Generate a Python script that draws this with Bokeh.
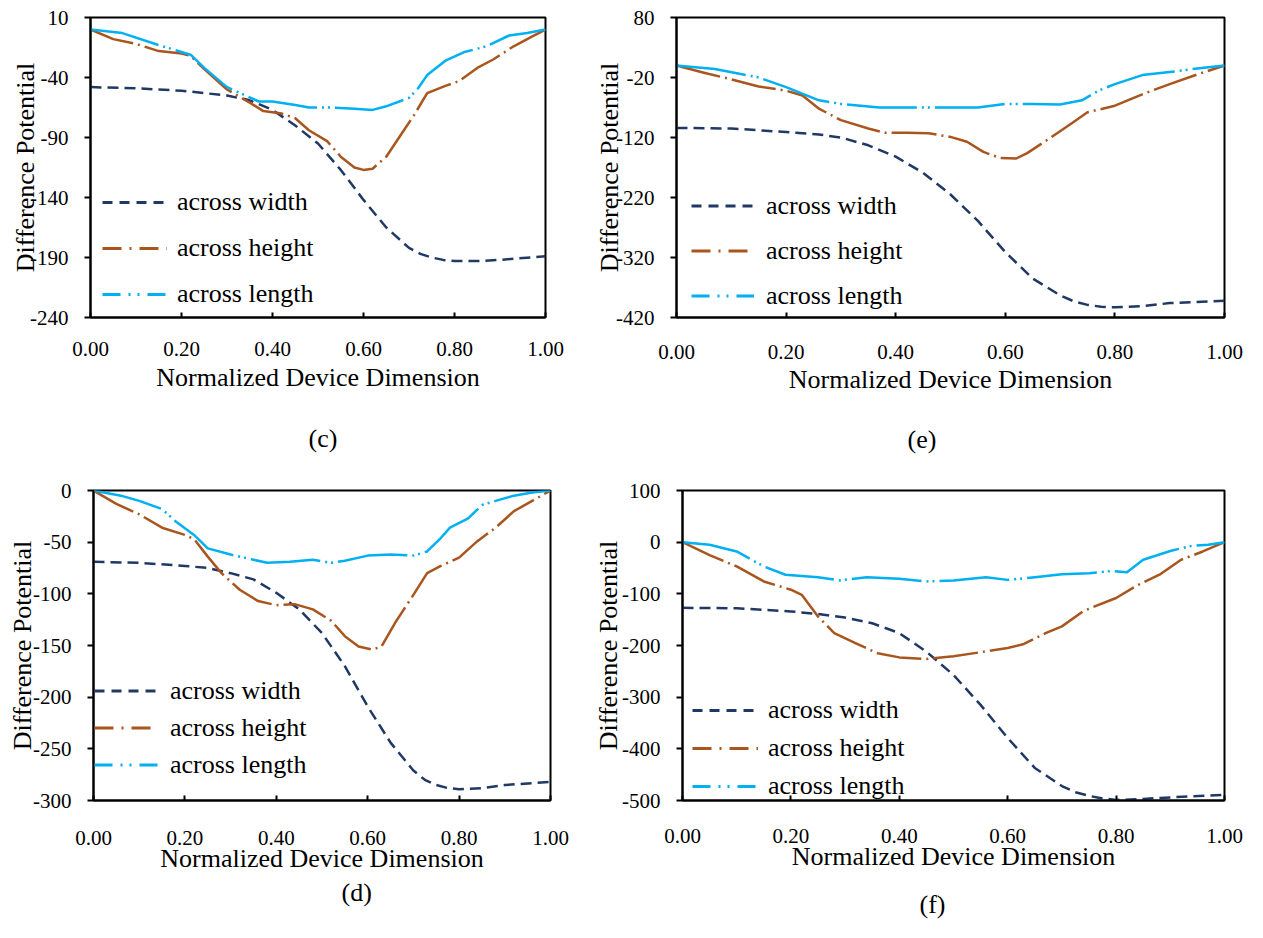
from bokeh.plotting import figure
from bokeh.models import (FixedTicker, NumeralTickFormatter, PrintfTickFormatter,
                          Legend, LegendItem, Title, Range1d)
from bokeh.layouts import column, row
from bokeh.embed import file_html
from bokeh.resources import INLINE

# ---------------- data ----------------
x_ticks = [0.0, 0.2, 0.4, 0.6, 0.8, 1.0]
series_names = ["across width", "across height", "across length"]

# panel (c)
c_yticks = [-240, -190, -140, -90, -40, 10]
c_width_x = [0, 0.1, 0.2, 0.3, 0.35, 0.4, 0.45, 0.5, 0.55, 0.6, 0.65, 0.7, 0.725, 0.75, 0.775, 0.8, 0.85, 0.9, 1.0]
c_width_y = [-48, -49, -51, -55, -59, -67, -80, -95, -117, -142, -165, -182, -187, -190, -192, -193, -193, -192, -189]
c_height_x = [0, 0.05, 0.1, 0.15, 0.2, 0.22, 0.25, 0.3, 0.35, 0.38, 0.42, 0.45, 0.48, 0.52, 0.55, 0.58,
              0.6, 0.62, 0.65, 0.68, 0.71, 0.74, 0.78, 0.81, 0.85, 0.885, 0.93, 0.97, 1.0]
c_height_y = [0, -8, -12, -18, -20, -22, -33, -50, -61, -68, -70, -74, -84, -93, -106, -115,
              -117, -116, -106, -89, -72, -53, -47, -43, -32, -25, -14, -6, 0]
c_length_x = [0, 0.07, 0.15, 0.22, 0.25, 0.3, 0.37, 0.4, 0.45, 0.48, 0.53, 0.58, 0.62, 0.65, 0.7,
              0.72, 0.74, 0.78, 0.82, 0.87, 0.92, 0.96, 1.0]
c_length_y = [0, -3, -13, -21, -32, -48, -60, -60, -63, -65, -65, -66, -67, -64, -57,
              -49, -38, -26, -19, -14, -5, -3, 0]

# panel (e)
e_yticks = [-420, -320, -220, -120, -20, 80]
e_width_x = [0, 0.1, 0.2, 0.26, 0.3, 0.35, 0.4, 0.45, 0.5, 0.55, 0.6, 0.65, 0.7, 0.725, 0.75, 0.775, 0.8, 0.85, 0.9, 1.0]
e_width_y = [-104, -105, -111, -115, -120, -133, -152, -179, -215, -259, -311, -355, -383, -393, -399, -402, -403, -401, -396, -392]
e_height_x = [0, 0.05, 0.1, 0.15, 0.2, 0.23, 0.26, 0.3, 0.35, 0.38, 0.42, 0.46, 0.5, 0.53, 0.56, 0.59,
              0.62, 0.64, 0.68, 0.72, 0.75, 0.8, 0.85, 0.9, 0.95, 1.0]
e_height_y = [0, -12, -23, -35, -42, -50, -72, -91, -105, -112, -112, -113, -119, -127, -144, -154,
              -155, -146, -122, -97, -78, -67, -48, -31, -15, 0]
e_length_x = [0, 0.07, 0.15, 0.2, 0.26, 0.3, 0.37, 0.45, 0.52, 0.55, 0.6, 0.65, 0.7, 0.74, 0.77,
              0.8, 0.85, 0.9, 0.95, 1.0]
e_length_y = [0, -6, -20, -36, -58, -64, -70, -70, -70, -70, -64, -64, -65, -58, -42,
              -31, -16, -11, -5, 0]

# panel (d)
d_yticks = [-300, -250, -200, -150, -100, -50, 0]
d_width_x = [0, 0.1, 0.2, 0.25, 0.3, 0.35, 0.4, 0.45, 0.5, 0.55, 0.6, 0.65, 0.7, 0.725, 0.75, 0.775, 0.8, 0.85, 0.9, 1.0]
d_width_y = [-69, -70, -73, -75, -80, -86, -99, -115, -138, -170, -209, -244, -271, -280, -285, -288, -289, -288, -285, -282]
d_height_x = [0, 0.05, 0.1, 0.15, 0.2, 0.22, 0.25, 0.28, 0.32, 0.36, 0.4, 0.44, 0.48, 0.52, 0.55, 0.58,
              0.61, 0.63, 0.66, 0.7, 0.73, 0.76, 0.8, 0.84, 0.88, 0.92, 0.96, 1.0]
d_height_y = [0, -13, -23, -36, -43, -47, -64, -80, -96, -107, -111, -110, -115, -126, -141, -151,
              -154, -151, -128, -101, -80, -73, -65, -49, -36, -20, -10, 0]
d_length_x = [0, 0.06, 0.1, 0.15, 0.18, 0.22, 0.25, 0.3, 0.35, 0.38, 0.43, 0.48, 0.52, 0.55, 0.6,
              0.65, 0.7, 0.73, 0.76, 0.78, 0.82, 0.85, 0.88, 0.92, 0.96, 1.0]
d_length_y = [0, -5, -10, -18, -30, -43, -56, -62, -67, -70, -69, -67, -70, -68, -63,
              -62, -63, -59, -46, -36, -27, -14, -10, -5, -2, 0]

# panel (f)
f_yticks = [-500, -400, -300, -200, -100, 0, 100]
f_width_x = [0, 0.1, 0.2, 0.25, 0.3, 0.35, 0.4, 0.45, 0.5, 0.55, 0.6, 0.65, 0.7, 0.725, 0.75, 0.775, 0.8, 0.85, 0.9, 1.0]
f_width_y = [-127, -128, -134, -139, -146, -157, -176, -212, -257, -315, -379, -437, -472, -484, -491, -496, -499, -497, -494, -489]
f_height_x = [0, 0.05, 0.1, 0.15, 0.2, 0.22, 0.25, 0.28, 0.32, 0.36, 0.4, 0.45, 0.5, 0.55, 0.6, 0.63,
              0.67, 0.7, 0.74, 0.8, 0.84, 0.88, 0.92, 0.96, 1.0]
f_height_y = [0, -25, -47, -76, -92, -102, -144, -176, -196, -215, -223, -226, -221, -213, -205, -197,
              -176, -163, -133, -108, -83, -63, -34, -18, 0]
f_length_x = [0, 0.05, 0.1, 0.15, 0.19, 0.25, 0.29, 0.34, 0.4, 0.45, 0.5, 0.56, 0.6, 0.65, 0.7,
              0.75, 0.79, 0.82, 0.85, 0.9, 0.94, 0.97, 1.0]
f_length_y = [0, -5, -18, -47, -63, -68, -74, -68, -71, -76, -74, -68, -73, -68, -62,
              -60, -56, -58, -34, -17, -7, -5, 0]

# ---------------- styling ----------------
FONT = "Liberation Serif"
COLORS = ["#1F3864", "#A9561E", "#00B0F0"]
PLOT_DASH = ["11 6", "45 5 2 5", "70 5 2 4 2 5"]
LEG_DASH = ["10 7", "19 8 2 8", "18 8 2 7 2 8"]
NAN = float("nan")


def make_panel(caption, xs, ys, yticks, fw, fh, bl, br, bt, bb,
               ystand, ylab_stand, xstand, xlab_stand,
               leg_x, leg_y, pitch, gw, lstand, cap_off, cap_stand):
    p = figure(frame_width=fw, frame_height=fh,
               min_border_left=bl, min_border_right=br,
               min_border_top=bt, min_border_bottom=bb,
               x_range=Range1d(0, 1), y_range=Range1d(yticks[0], yticks[-1]),
               output_backend="svg", toolbar_location=None, tools="")
    p.grid.visible = False
    p.outline_line_color = "black"
    p.outline_line_width = 2
    p.background_fill_color = "white"
    p.border_fill_color = "white"

    xa = p.xaxis[0]
    xa.ticker = FixedTicker(ticks=x_ticks)
    xa.formatter = NumeralTickFormatter(format="0.00")
    xa.axis_label = "Normalized Device Dimension"
    xa.major_tick_in = 5
    xa.major_tick_out = 0
    xa.minor_tick_line_color = None
    xa.axis_line_width = 2
    xa.major_tick_line_width = 2
    xa.major_label_standoff = xstand
    xa.axis_label_standoff = xlab_stand

    ya = p.yaxis[0]
    ya.ticker = FixedTicker(ticks=yticks)
    ya.formatter = PrintfTickFormatter(format="%d")
    ya.axis_label = "Difference Potential"
    ya.major_tick_in = 0
    ya.major_tick_out = 6
    ya.minor_tick_line_color = None
    ya.axis_line_width = 2
    ya.major_tick_line_width = 2
    ya.major_label_standoff = ystand
    ya.axis_label_standoff = ylab_stand

    for ax in (xa, ya):
        ax.major_label_text_font = FONT
        ax.major_label_text_font_size = "21px"
        ax.major_label_text_color = "black"
        ax.axis_label_text_font = FONT
        ax.axis_label_text_font_size = "26px"
        ax.axis_label_text_font_style = "normal"
        ax.axis_label_text_color = "black"
        ax.axis_line_color = "black"
        ax.major_tick_line_color = "black"

    items = []
    for i in range(3):
        p.line(xs[i], ys[i], line_color=COLORS[i], line_width=2.5,
               line_dash=PLOT_DASH[i], line_join="round")
        # renderer used only for the legend sample (no visible data)
        r_leg = p.line([NAN], [NAN], line_color=COLORS[i], line_width=3,
                       line_dash=LEG_DASH[i])
        items.append(LegendItem(label=series_names[i], renderers=[r_leg]))

    leg = Legend(items=items, location=(leg_x, leg_y), orientation="vertical",
                 glyph_width=gw, glyph_height=pitch, label_height=pitch,
                 label_standoff=lstand, spacing=0, padding=0, margin=0,
                 border_line_color=None, background_fill_color=None,
                 background_fill_alpha=0,
                 label_text_font=FONT, label_text_font_size="26px",
                 label_text_color="black")
    p.add_layout(leg)

    cap = Title(text=caption, align="left", offset=cap_off, standoff=cap_stand,
                text_font=FONT, text_font_size="26px", text_font_style="normal",
                text_color="black")
    p.add_layout(cap, "below")
    return p


pc = make_panel("(c)", [c_width_x, c_height_x, c_length_x], [c_width_y, c_height_y, c_length_y],
                c_yticks, 455, 300, 90, 40, 16, 164,
                16, -13, 24, 4, 12, 0, 46, 65, 10, 218, 54)
pe = make_panel("(e)", [e_width_x, e_height_x, e_length_x], [e_width_y, e_height_y, e_length_y],
                e_yticks, 548, 300, 91, 39, 17, 163,
                16, -11, 27, 3, 15, -1, 45, 63, 12, 231, 53)
pd = make_panel("(d)", [d_width_x, d_height_x, d_length_x], [d_width_y, d_height_y, d_length_y],
                d_yticks, 457, 310, 93, 40, 10, 138,
                16, -7, 30, -4, 1, 17, 37, 64, 12, 248, 0)
pf = make_panel("(f)", [f_width_x, f_height_x, f_length_x], [f_width_y, f_height_y, f_length_y],
                f_yticks, 542, 310, 92, 39, 10, 138,
                16, -4, 28, -4, 10, -5, 38, 66, 10, 237, 29)

layout = column(row(pc, pe), row(pd, pf))
open("out.html", "w").write(file_html(layout, INLINE))
